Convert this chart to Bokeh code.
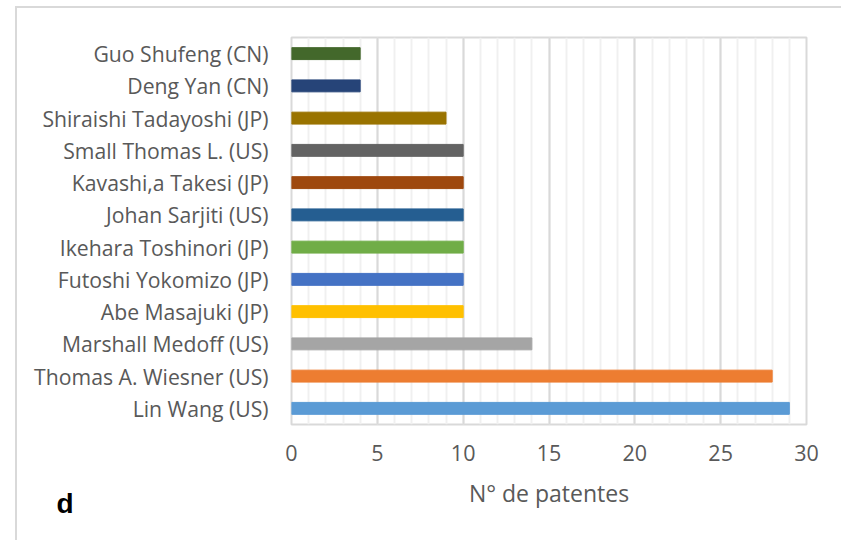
from bokeh.plotting import figure
from bokeh.models import FactorRange, Range1d, FixedTicker, Label
from bokeh.embed import file_html
from bokeh.resources import INLINE

names = ["Lin Wang (US)", "Thomas A. Wiesner (US)", "Marshall Medoff (US)",
         "Abe Masajuki (JP)", "Futoshi Yokomizo (JP)", "Ikehara Toshinori (JP)",
         "Johan Sarjiti (US)", "Kavashi,a Takesi (JP)", "Small Thomas L. (US)",
         "Shiraishi Tadayoshi (JP)", "Deng Yan (CN)", "Guo Shufeng (CN)"]
patents = [29, 28, 14, 10, 10, 10, 10, 10, 10, 9, 4, 4]
colors = ["#5B9BD5", "#ED7D31", "#A5A5A5", "#FFC000", "#4472C4", "#70AD47",
          "#255E91", "#9E480E", "#636363", "#997300", "#264478", "#43682B"]
x_ticks = [0, 5, 10, 15, 20, 25, 30]
x_title = "N° de patentes"
panel_label = "d"

FONT = "Open Sans"
W, H = 826, 534

p = figure(width=W, height=H, output_backend="svg", toolbar_location=None,
           y_range=FactorRange(*names, range_padding=0.0), x_range=Range1d(0, 30),
           min_border_left=274, min_border_right=37, min_border_top=29, min_border_bottom=116)

p.hbar(y=names, right=patents, left=0, height=0.37, color=colors)

p.outline_line_color = "#d9d9d9"
p.outline_line_width = 2

p.xaxis.ticker = FixedTicker(ticks=x_ticks, minor_ticks=list(range(0, 31)))
p.xaxis.axis_line_color = None
p.xaxis.major_tick_line_color = None
p.xaxis.minor_tick_line_color = None
p.xaxis.major_label_text_font = FONT
p.xaxis.major_label_text_font_size = "21.5px"
p.xaxis.major_label_text_color = "#595959"
p.xaxis.major_label_standoff = 14
p.xaxis.axis_label = x_title
p.xaxis.axis_label_text_font = FONT
p.xaxis.axis_label_text_font_size = "23px"
p.xaxis.axis_label_text_font_style = "normal"
p.xaxis.axis_label_text_color = "#595959"
p.xaxis.axis_label_standoff = 13

p.yaxis.axis_line_color = None
p.yaxis.major_tick_line_color = None
p.yaxis.minor_tick_line_color = None
p.yaxis.major_label_text_font = FONT
p.yaxis.major_label_text_font_size = "21.2px"
p.yaxis.major_label_text_color = "#595959"
p.yaxis.major_label_standoff = 17

p.ygrid.grid_line_color = None
p.xgrid.grid_line_color = "#d9d9d9"
p.xgrid.grid_line_width = 2
p.xgrid.minor_grid_line_color = "#f0f0f0"
p.xgrid.minor_grid_line_width = 2

p.add_layout(Label(x=-235, y=39, x_units="screen", y_units="screen", text=panel_label,
                   text_font="Liberation Sans", text_font_style="bold",
                   text_font_size="28px", text_color="black", text_baseline="alphabetic"), "below")

p.styles = {"border-top": "2px solid #d9d9d9", "border-left": "2px solid #d9d9d9",
            "margin-left": "15px", "margin-top": "6px"}

open("out.html", "w").write(file_html(p, INLINE))
